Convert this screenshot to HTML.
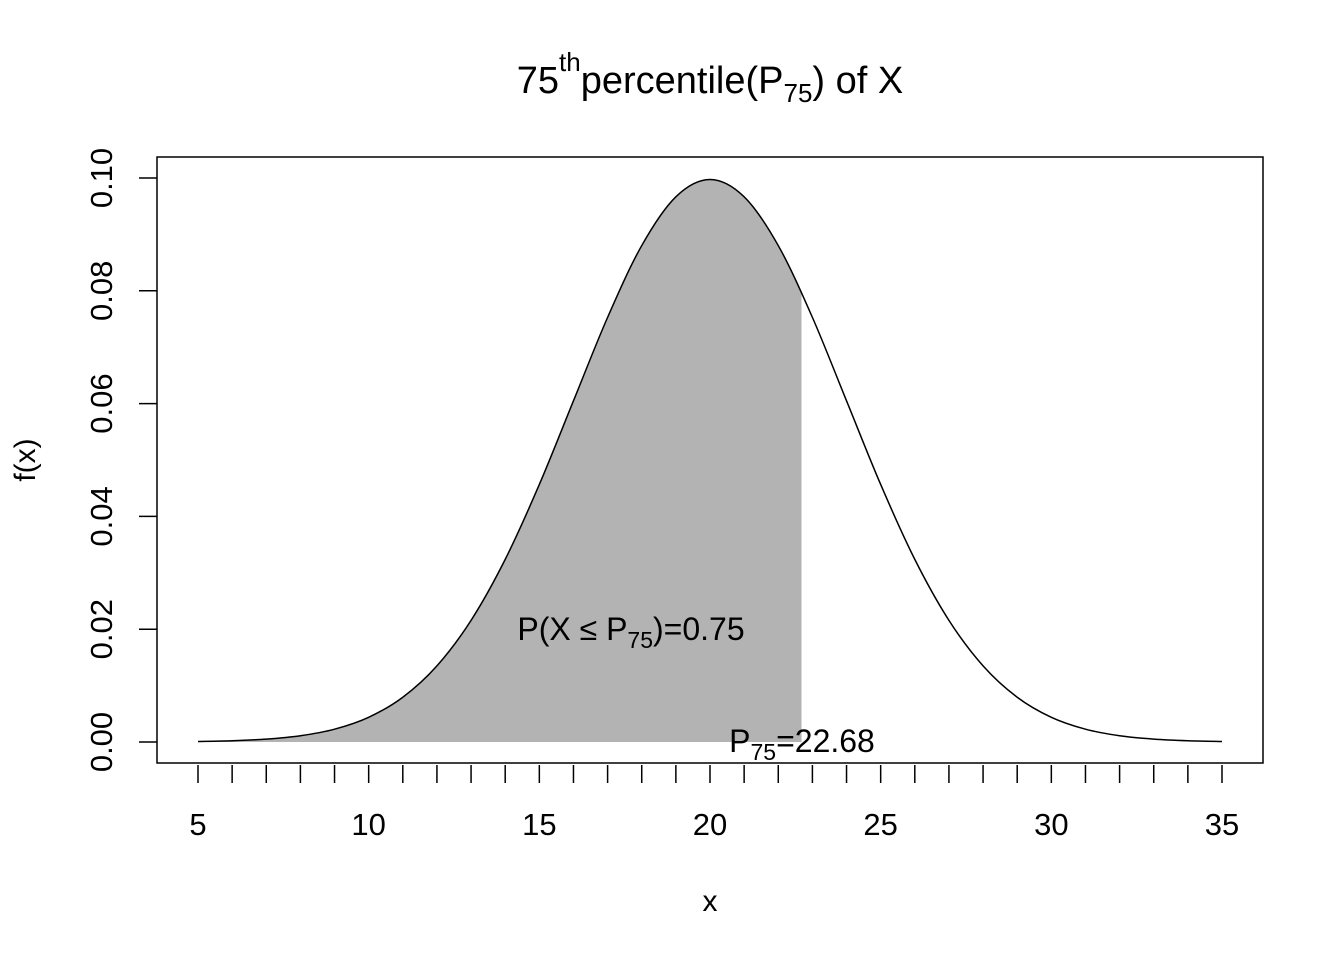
<!DOCTYPE html>
<html><head><meta charset="utf-8"><style>
html,body{margin:0;padding:0;background:#fff;}
svg{display:block;font-family:"Liberation Sans",Arial,sans-serif;}
</style></head><body>
<svg id="chart" width="1344" height="960" viewBox="0 0 1344 960" xmlns="http://www.w3.org/2000/svg">
  <text x="710" y="93" font-size="38" text-anchor="middle">75<tspan font-size="26" dy="-22">th</tspan><tspan dy="22">percentile(P</tspan><tspan font-size="26" dy="9">75</tspan><tspan dy="-9">) of X</tspan></text>
  <rect x="157" y="157" width="1106" height="606" fill="none" stroke="#000" stroke-width="1.5"/>
  <g id="marks"></g>
  <g id="xaxis"></g>
  <g id="yaxis"></g>
  <text x="710" y="911" font-size="30" text-anchor="middle">x</text>
  <text transform="translate(35,460) rotate(-90)" font-size="30" text-anchor="middle">f(x)</text>
  <text x="631" y="640" font-size="32" text-anchor="middle">P(X ≤ P<tspan font-size="23" dy="8">75</tspan><tspan dy="-8">)=0.75</tspan></text>
  <text x="802" y="752" font-size="32" text-anchor="middle">P<tspan font-size="23" dy="8">75</tspan><tspan dy="-8">=22.68</tspan></text>
</svg>
<script>
const xValues = [5,6,7,8,9,10,11,12,13,14,15,16,17,18,19,20,21,22,23,24,25,26,27,28,29,30,31,32,33,34,35];
const densityValues = [0.00009,0.00022,0.00051,0.00111,0.00227,0.00438,0.00794,0.01350,0.02157,0.03238,0.04566,0.06049,0.07529,0.08802,0.09667,0.09974,0.09667,0.08802,0.07529,0.06049,0.04566,0.03238,0.02157,0.01350,0.00794,0.00438,0.00227,0.00111,0.00051,0.00022,0.00009];
const percentileValue = 22.68;
const xTickValues = [5,6,7,8,9,10,11,12,13,14,15,16,17,18,19,20,21,22,23,24,25,26,27,28,29,30,31,32,33,34,35];
const xTickLabels = ["5","10","15","20","25","30","35"];
const yTickLabels = ["0.00","0.02","0.04","0.06","0.08","0.10"];

const NS = "http://www.w3.org/2000/svg";
const xs = v => 198 + (v - 5) * (1222 - 198) / 30;
const ys = v => 742 - v * (742 - 178) / 0.10;
function mk(tag, attrs, parent){ const e = document.createElementNS(NS, tag); for (const k in attrs) e.setAttribute(k, attrs[k]); parent.appendChild(e); return e; }

const pts = xValues.map((x,i)=>[xs(x), ys(densityValues[i])]);
let d = "M" + pts[0][0] + "," + pts[0][1];
for (let i=0;i<pts.length-1;i++){
  const p0 = pts[Math.max(0,i-1)], p1 = pts[i], p2 = pts[i+1], p3 = pts[Math.min(pts.length-1,i+2)];
  const c1x = p1[0] + (p2[0]-p0[0])/6, c1y = p1[1] + (p2[1]-p0[1])/6;
  const c2x = p2[0] - (p3[0]-p1[0])/6, c2y = p2[1] - (p3[1]-p1[1])/6;
  d += " C" + c1x + "," + c1y + " " + c2x + "," + c2y + " " + p2[0] + "," + p2[1];
}
const marks = document.getElementById("marks");
const defs = mk("defs", {}, marks);
const cp = mk("clipPath", {id:"shadeclip"}, defs);
mk("rect", {x:0, y:0, width: xs(percentileValue), height: 960}, cp);
const area = mk("path", {d: d + " L" + pts[pts.length-1][0] + "," + ys(0) + " L" + pts[0][0] + "," + ys(0) + " Z", fill:"#b3b3b3", "clip-path":"url(#shadeclip)"}, marks);


const line = mk("path", {d: d, fill:"none", stroke:"#000", "stroke-width":1.5}, marks);



const xa = document.getElementById("xaxis");
xTickValues.forEach(v=>{
  const t = mk("line", {x1:xs(v), x2:xs(v), y1:765, y2:783, stroke:"#000", "stroke-width":1.5}, xa);
  
  
});
xTickLabels.forEach(s=>{
  const t = mk("text", {x:xs(+s), y:835, "font-size":31, "text-anchor":"middle"}, xa);
  t.textContent = s;
  
  
});
const ya = document.getElementById("yaxis");
yTickLabels.forEach(s=>{
  const y = ys(+s);
  const t = mk("line", {x1:139, x2:157, y1:y, y2:y, stroke:"#000", "stroke-width":1.5}, ya);
  
  
  const l = mk("text", {transform:"translate(112,"+y+") rotate(-90)", "font-size":31, "text-anchor":"middle"}, ya);
  l.textContent = s;
  
  
});
</script>
</body></html>
